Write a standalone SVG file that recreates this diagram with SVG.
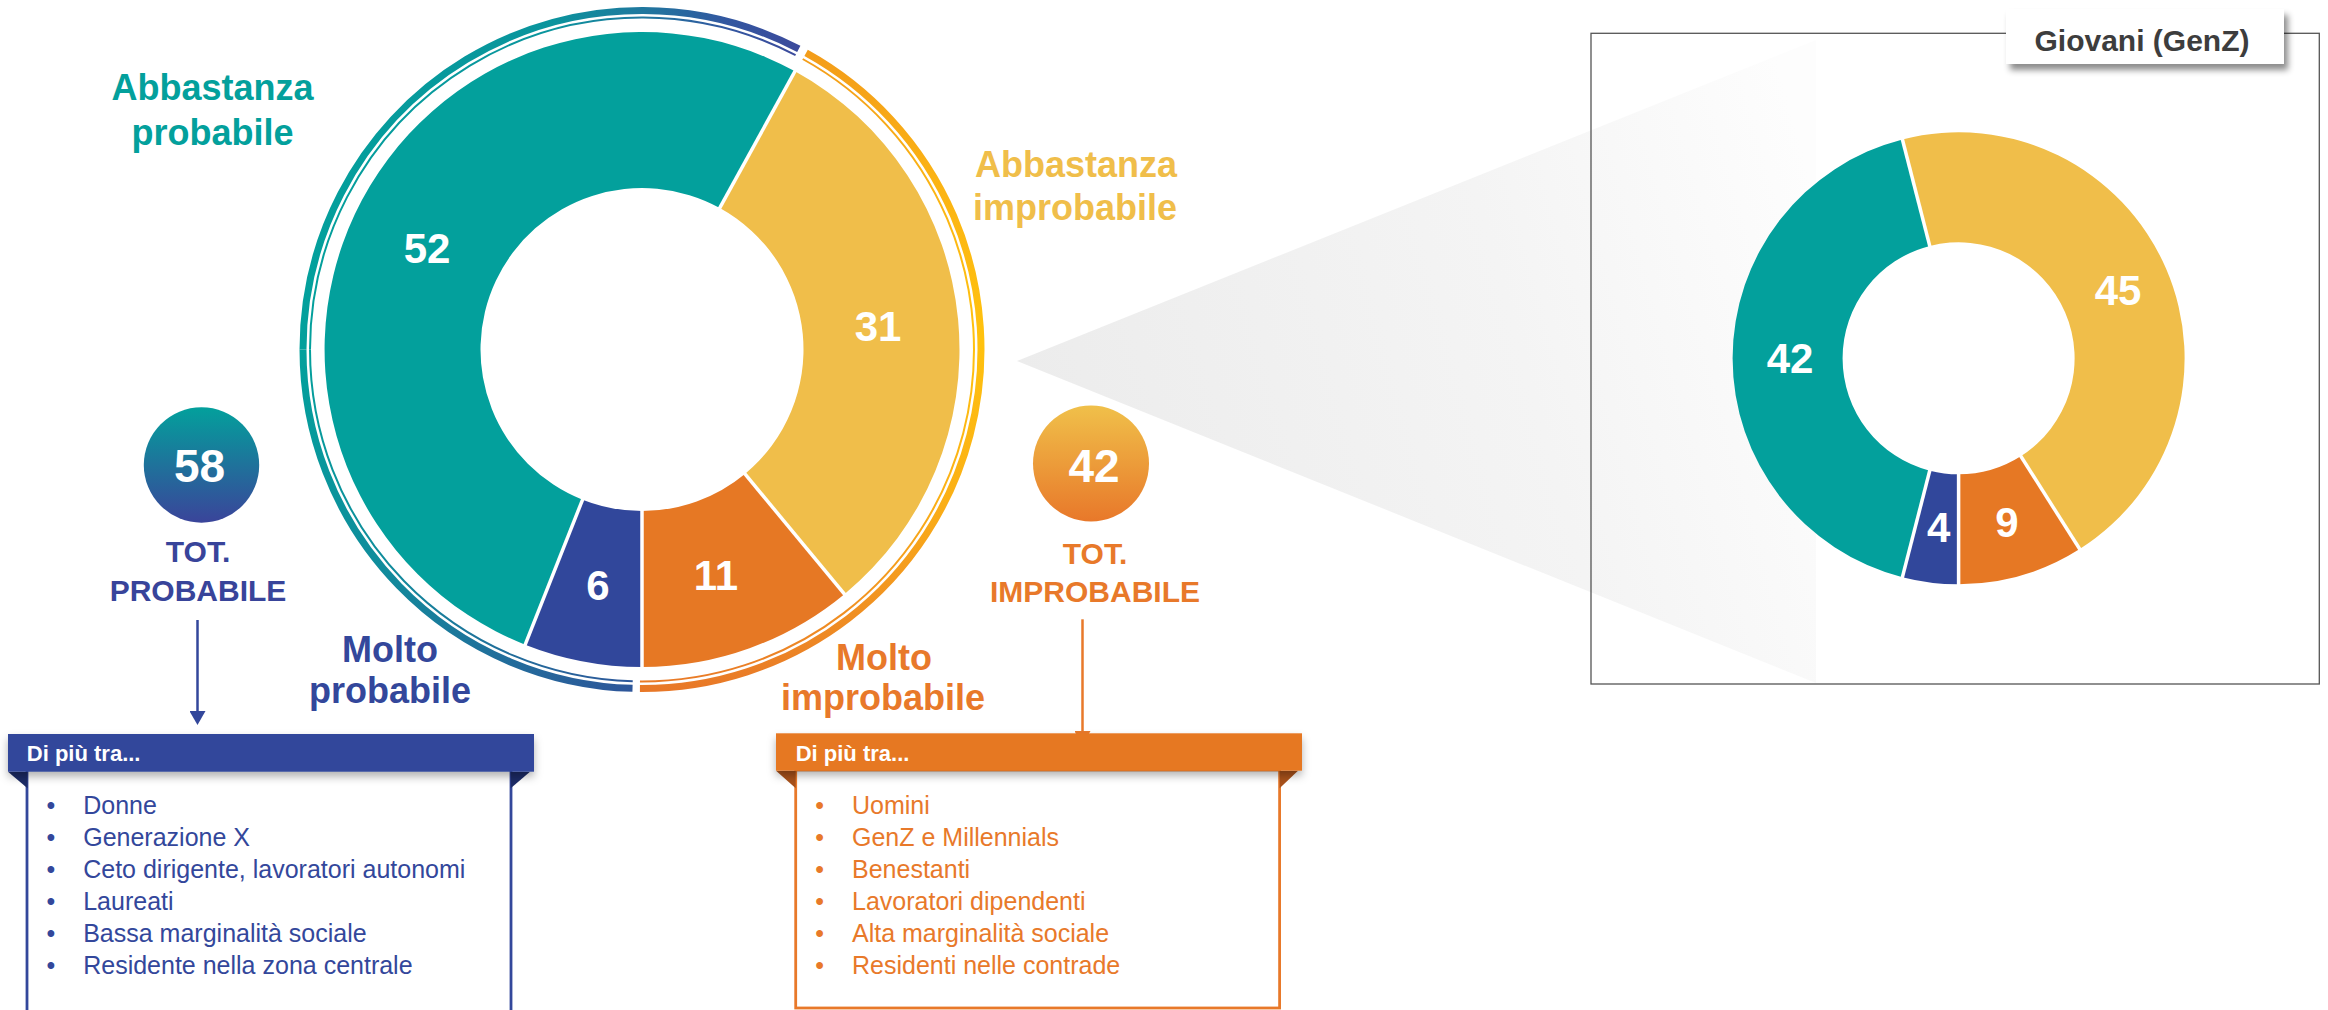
<svg xmlns="http://www.w3.org/2000/svg" width="2328" height="1010" viewBox="0 0 2328 1010">
<style>
text{font-family:"Liberation Sans",Arial,Helvetica,sans-serif}
.b{font-weight:bold}
.lbl{font-size:36px;font-weight:bold;text-anchor:middle}
.val{font-size:42px;font-weight:bold;fill:#fff;text-anchor:middle}
.tot{font-size:30px;font-weight:bold;text-anchor:middle}
.big{font-size:46px;font-weight:bold;fill:#fff;text-anchor:middle}
.hd{font-size:22px;font-weight:bold;fill:#fff}
.li{font-size:25px}
.bu{font-size:25px;text-anchor:middle}
.sep{stroke:#fff;stroke-width:3.5}
.teal{fill:#03a09c}.yel{fill:#f0be4a}.ora{fill:#e67824}.blu{fill:#31479b}
.cb{fill:#33479b}.co{fill:#e8792a}
.thick{fill:none;stroke-width:7}
.thin{fill:none;stroke-width:2}
</style>
<defs>
<linearGradient id="gWedge" gradientUnits="userSpaceOnUse" x1="1017" y1="361" x2="1800" y2="140">
<stop offset="0" stop-color="#ececec"/><stop offset="0.6" stop-color="#f4f4f4"/><stop offset="1" stop-color="#fdfdfd"/>
</linearGradient>
<linearGradient id="gProbA" gradientUnits="userSpaceOnUse" x1="632" y1="690" x2="303" y2="350">
<stop offset="0" stop-color="#2e569a"/><stop offset="0.55" stop-color="#108c9c"/><stop offset="1" stop-color="#03a09c"/>
</linearGradient>
<linearGradient id="gProbB" gradientUnits="userSpaceOnUse" x1="303" y1="200" x2="800" y2="200">
<stop offset="0" stop-color="#03a09c"/><stop offset="0.5" stop-color="#0a949d"/><stop offset="0.68" stop-color="#1f789e"/><stop offset="0.85" stop-color="#3257a0"/><stop offset="1" stop-color="#3c4a9c"/>
</linearGradient>
<linearGradient id="gImp" gradientUnits="userSpaceOnUse" x1="0" y1="50" x2="0" y2="690">
<stop offset="0" stop-color="#f39c1a"/><stop offset="0.2" stop-color="#fbb314"/><stop offset="0.45" stop-color="#ffc20e"/><stop offset="0.7" stop-color="#fbb016"/><stop offset="0.85" stop-color="#f29520"/><stop offset="1" stop-color="#e87828"/>
</linearGradient>
<linearGradient id="gTotP" x1="0" y1="0" x2="0" y2="1">
<stop offset="0" stop-color="#03a09c"/><stop offset="1" stop-color="#3a449a"/>
</linearGradient>
<linearGradient id="gTotI" x1="0" y1="0" x2="0" y2="1">
<stop offset="0" stop-color="#f0c04a"/><stop offset="1" stop-color="#e8782a"/>
</linearGradient>
<filter id="shHd" x="-5%" y="-30%" width="110%" height="180%">
<feDropShadow dx="0" dy="5" stdDeviation="4" flood-color="#000" flood-opacity="0.3"/>
</filter>
<filter id="shTab" x="-10%" y="-30%" width="120%" height="180%">
<feDropShadow dx="4" dy="6" stdDeviation="3" flood-color="#000" flood-opacity="0.45"/>
</filter>
<marker id="arrB" markerUnits="userSpaceOnUse" markerWidth="16" markerHeight="16" viewBox="0 0 14 16" refX="0" refY="8" orient="auto">
<path d="M0,0 L14,8 L0,16 Z" fill="#33479b"/>
</marker>
<marker id="arrO" markerUnits="userSpaceOnUse" markerWidth="16" markerHeight="16" viewBox="0 0 14 16" refX="0" refY="8" orient="auto">
<path d="M0,0 L14,8 L0,16 Z" fill="#e8792a"/>
</marker>
</defs>
<rect width="2328" height="1010" fill="#fff"/>

<g id="zoom-wedge">
<polygon points="1017,361 1816,40 1816,683" fill="url(#gWedge)"/>
</g>

<g id="main-donut">
<path class="blu" d="M642,667 A317.5,317.5 0 0 1 525.13,644.71 L582.55,499.66 A161.5,161.5 0 0 0 642,511 Z"/>
<path class="teal" d="M525.13,644.71 A317.5,317.5 0 1 1 794.97,71.27 L719.81,207.98 A161.5,161.5 0 1 0 582.55,499.66 Z"/>
<path class="yel" d="M794.97,71.27 A317.5,317.5 0 0 1 844.37,594.13 L744.94,473.94 A161.5,161.5 0 0 0 719.81,207.98 Z"/>
<path class="ora" d="M844.37,594.13 A317.5,317.5 0 0 1 642,667 L642,511 A161.5,161.5 0 0 0 744.94,473.94 Z"/>
<line class="sep" x1="642" y1="509" x2="642" y2="669"/>
<line class="sep" x1="583.3" y1="497.8" x2="524.4" y2="646.6"/>
<line class="sep" x1="718.8" y1="209.7" x2="796" y2="69.4"/>
<line class="sep" x1="743.7" y1="472.4" x2="845.7" y2="595.7"/>
<text class="val" x="427" y="263">52</text>
<text class="val" x="878" y="341">31</text>
<text class="val" x="598" y="600">6</text>
<text class="val" x="716" y="590">11</text>
</g>

<g id="ring-probabile">
<path class="thick" stroke="url(#gProbA)" d="M632.53,688.37 A339,339 0 0 1 303,349.5"/>
<path class="thick" stroke="url(#gProbB)" d="M303,349.5 A339,339 0 0 1 798.80,48.95"/>
<path class="thin" stroke="url(#gProbA)" d="M632.73,681.37 A332,332 0 0 1 310,349.5"/>
<path class="thin" stroke="url(#gProbB)" d="M310,349.5 A332,332 0 0 1 795.57,55.15"/>
</g>

<g id="ring-improbabile">
<path class="thick" stroke="url(#gImp)" d="M806.11,52.87 A339,339 0 0 1 639.93,688.49"/>
<path class="thin" stroke="url(#gImp)" d="M802.72,59.00 A332,332 0 0 1 639.97,681.49"/>
</g>

<g id="label-abbastanza-probabile">
<text class="lbl" fill="#03a09c" x="212.5" y="100.3">Abbastanza</text>
<text class="lbl" fill="#03a09c" x="212.5" y="144.7">probabile</text>
</g>
<g id="label-abbastanza-improbabile">
<text class="lbl" fill="#f0be4a" x="1076" y="177.4">Abbastanza</text>
<text class="lbl" fill="#f0be4a" x="1075" y="220.3">improbabile</text>
</g>
<g id="label-molto-probabile">
<text class="lbl" fill="#33479b" x="390" y="661.7">Molto</text>
<text class="lbl" fill="#33479b" x="390" y="703.3">probabile</text>
</g>
<g id="label-molto-improbabile">
<text class="lbl" fill="#e8792a" x="884" y="670">Molto</text>
<text class="lbl" fill="#e8792a" x="883" y="710">improbabile</text>
</g>

<g id="tot-probabile">
<circle cx="201.5" cy="465" r="57.7" fill="url(#gTotP)"/>
<text class="big" x="199.5" y="482">58</text>
<text class="tot" fill="#38449a" x="198" y="561.6">TOT.</text>
<text class="tot" fill="#38449a" x="198" y="600.5">PROBABILE</text>
</g>
<g id="tot-improbabile">
<circle cx="1091" cy="463.5" r="58" fill="url(#gTotI)"/>
<text class="big" x="1094" y="481.7">42</text>
<text class="tot" fill="#e8792a" x="1095" y="564">TOT.</text>
<text class="tot" fill="#e8792a" x="1095" y="602.2">IMPROBABILE</text>
</g>

<g id="connectors">
<line x1="197.5" y1="620" x2="197.5" y2="711" stroke="#33479b" stroke-width="2.5" marker-end="url(#arrB)"/>
<line x1="1082.5" y1="619.3" x2="1082.5" y2="731" stroke="#e8792a" stroke-width="2.5" marker-end="url(#arrO)"/>
</g>

<g id="box-probabile">
<line x1="27" y1="771" x2="27" y2="1015" stroke="#33479b" stroke-width="2.8"/>
<line x1="511" y1="771" x2="511" y2="1015" stroke="#33479b" stroke-width="2.8"/>
<polygon points="8,771.7 27.5,771.7 27.5,788.3" fill="#1c2b66"/>
<polygon points="510.7,771.7 530,771.7 510.7,788.3" fill="#1c2b66"/>
<rect x="8" y="734" width="526" height="37.7" class="blu" filter="url(#shHd)"/>
<text class="hd" x="26.8" y="761">Di più tra...</text>
<g class="cb">
<text class="bu" x="51" y="813.5">•</text><text class="li" x="83.2" y="813.5">Donne</text>
<text class="bu" x="51" y="845.5">•</text><text class="li" x="83.2" y="845.5">Generazione X</text>
<text class="bu" x="51" y="877.5">•</text><text class="li" x="83.2" y="877.5">Ceto dirigente, lavoratori autonomi</text>
<text class="bu" x="51" y="909.5">•</text><text class="li" x="83.2" y="909.5">Laureati</text>
<text class="bu" x="51" y="941.5">•</text><text class="li" x="83.2" y="941.5">Bassa marginalità sociale</text>
<text class="bu" x="51" y="973.5">•</text><text class="li" x="83.2" y="973.5">Residente nella zona centrale</text>
</g>
</g>

<g id="box-improbabile">
<rect x="795.7" y="770" width="483.9" height="238" fill="none" stroke="#e8792a" stroke-width="2.8"/>
<polygon points="776,770.7 795.7,770.7 795.7,788.3" fill="#a8511a"/>
<polygon points="1279.6,770.7 1298,770.7 1279.6,788.3" fill="#a8511a"/>
<rect x="776" y="733.3" width="526" height="37.4" class="ora" filter="url(#shHd)"/>
<text class="hd" x="795.7" y="761">Di più tra...</text>
<g class="co">
<text class="bu" x="819.6" y="813.5">•</text><text class="li" x="852" y="813.5">Uomini</text>
<text class="bu" x="819.6" y="845.5">•</text><text class="li" x="852" y="845.5">GenZ e Millennials</text>
<text class="bu" x="819.6" y="877.5">•</text><text class="li" x="852" y="877.5">Benestanti</text>
<text class="bu" x="819.6" y="909.5">•</text><text class="li" x="852" y="909.5">Lavoratori dipendenti</text>
<text class="bu" x="819.6" y="941.5">•</text><text class="li" x="852" y="941.5">Alta marginalità sociale</text>
<text class="bu" x="819.6" y="973.5">•</text><text class="li" x="852" y="973.5">Residenti nelle contrade</text>
</g>
</g>

<g id="genz-panel">
<rect x="1591" y="33.3" width="728.3" height="650.7" fill="none" stroke="#555" stroke-width="1.3"/>
<rect x="2006" y="9" width="278" height="55" fill="#fff" filter="url(#shTab)"/>
<text class="b" x="2142" y="51" font-size="30" fill="#3d3d3d" text-anchor="middle">Giovani (GenZ)</text>
</g>

<g id="genz-donut">
<path class="blu" d="M1958.6,584.3 A226,226 0 0 1 1902.40,577.20 L1929.75,470.66 A116,116 0 0 0 1958.6,474.3 Z"/>
<path class="teal" d="M1902.40,577.20 A226,226 0 0 1 1902.40,139.40 L1929.75,245.94 A116,116 0 0 0 1929.75,470.66 Z"/>
<path class="yel" d="M1902.40,139.40 A226,226 0 0 1 2079.70,549.12 L2020.76,456.24 A116,116 0 0 0 1929.75,245.94 Z"/>
<path class="ora" d="M2079.70,549.12 A226,226 0 0 1 1958.6,584.3 L1958.6,474.3 A116,116 0 0 0 2020.76,456.24 Z"/>
<line class="sep" x1="1958.6" y1="472" x2="1958.6" y2="586"/>
<line class="sep" x1="1930.3" y1="468.5" x2="1901.9" y2="579.1"/>
<line class="sep" x1="1930.3" y1="248.1" x2="1901.9" y2="137.5"/>
<line class="sep" x1="2019.6" y1="454.3" x2="2080.8" y2="550.8"/>
<text class="val" x="2118" y="305">45</text>
<text class="val" x="1790" y="373">42</text>
<text class="val" x="1938.6" y="541.5">4</text>
<text class="val" x="2007" y="537">9</text>
</g>
</svg>
